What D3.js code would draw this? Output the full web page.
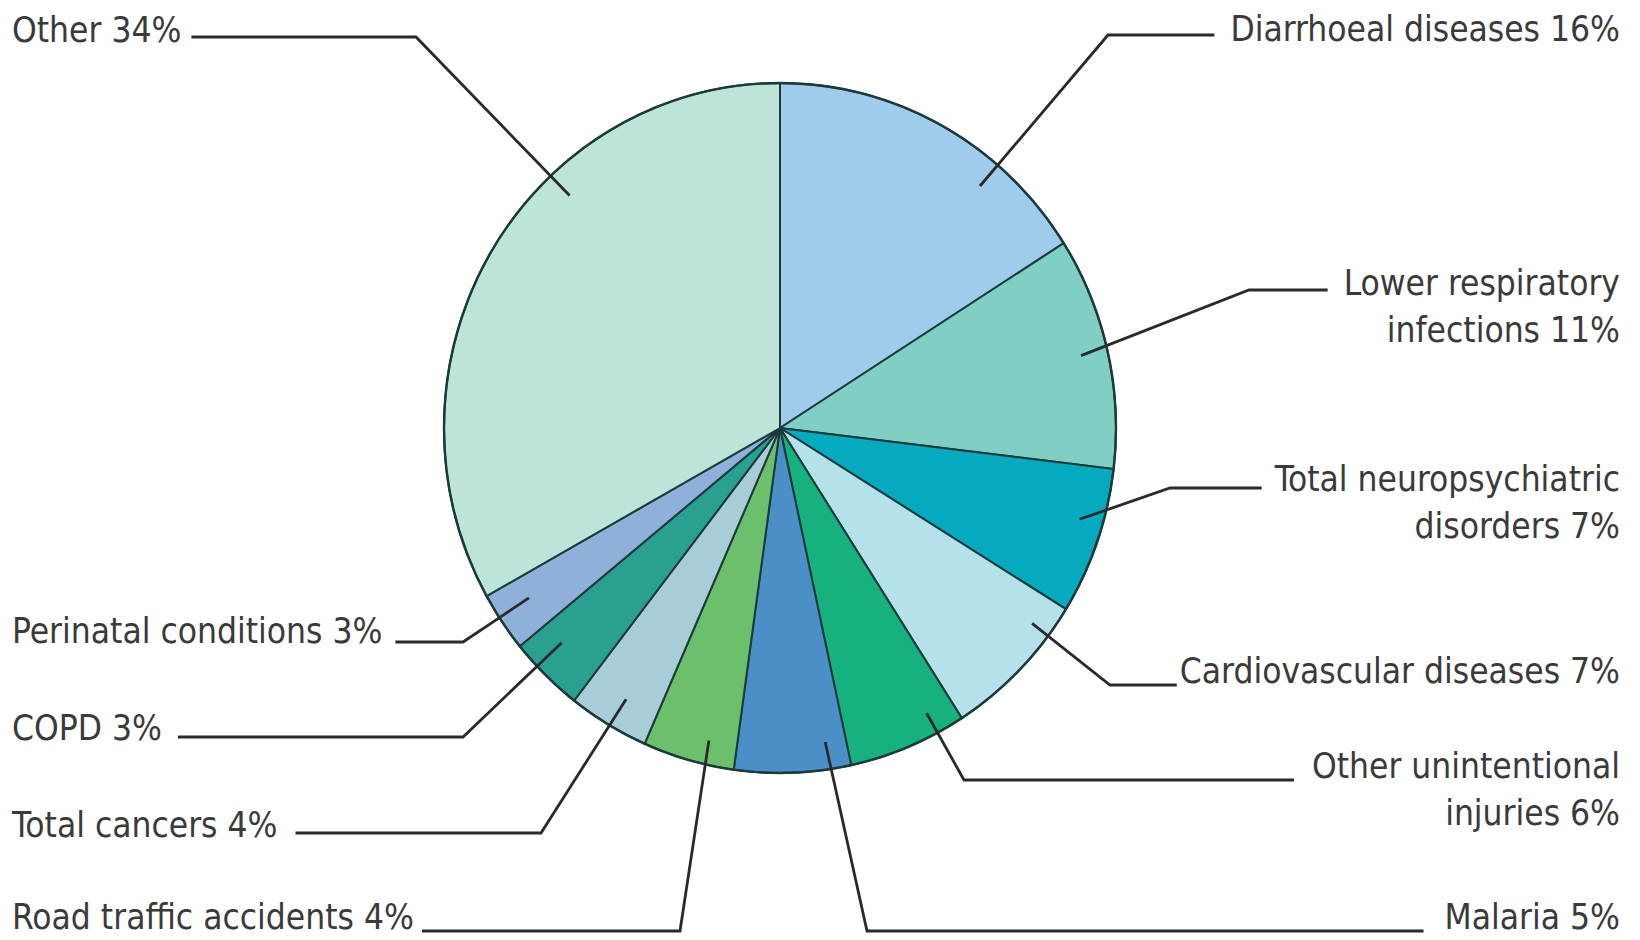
<!DOCTYPE html>
<html>
<head>
<meta charset="utf-8">
<script src="https://cdn.jsdelivr.net/npm/d3@7"></script>
<style>
  html, body { margin: 0; padding: 0; background: #ffffff; }
  svg { display: block; }
  .slice { stroke: #1d3a3a; stroke-width: 2; }
  .rim { fill: none; stroke: #1d3a3a; stroke-width: 2.4; }
  .leader { fill: none; stroke: #2a2a2a; stroke-width: 2.8; }
  .label { font-family: "Liberation Sans Narrow", "DejaVu Sans Condensed", "Noto Sans", sans-serif; font-size: 35px; fill: #3a3a3a; }
</style>
</head>
<body>
<svg id="chart"></svg>
<script>
// slices, clockwise from 12 o'clock
const causes = [
  "Diarrhoeal diseases", "Lower respiratory infections", "Total neuropsychiatric disorders",
  "Cardiovascular diseases", "Other unintentional injuries", "Malaria",
  "Road traffic accidents", "Total cancers", "COPD", "Perinatal conditions", "Other"
];
// share of total
const shares = [16.0, 10.9, 6.9, 7.1, 5.7, 5.6, 4.4, 3.9, 3.6, 2.8, 33.1];
// printed labels (rounded)
const labelLines = [
  ["Diarrhoeal diseases 16%"],
  ["Lower respiratory", "infections 11%"],
  ["Total neuropsychiatric", "disorders 7%"],
  ["Cardiovascular diseases 7%"],
  ["Other unintentional", "injuries 6%"],
  ["Malaria 5%"],
  ["Road traffic accidents 4%"],
  ["Total cancers 4%"],
  ["COPD 3%"],
  ["Perinatal conditions 3%"],
  ["Other 34%"]
];
const colors = [
  "#9fcbec", "#7fcfc4", "#05aabf", "#b4e1ea", "#17b07f", "#4a90c6",
  "#6cc06c", "#a9cdd8", "#2aa092", "#8fb0d8", "#bde4d9"
];

// label layout: side, text x, first baseline, leader y, elbow x, gap to text,
// and where the pointer ends inside its slice (f = fraction of slice angle, k = fraction of radius)
const layout = [
  { side: "right", x: 1620, y: 41,  ly: 35,  ex: 1108, gap: 16, f: 0.70, k: 0.92 },
  { side: "right", x: 1620, y: 295, ly: 290, ex: 1249, gap: 16, f: 0.49, k: 0.92 },
  { side: "right", x: 1620, y: 491, ly: 488, ex: 1170, gap: 13, f: 0.39, k: 0.93 },
  { side: "right", x: 1620, y: 683, ly: 685, ex: 1110, gap: 3,  f: 0.21, k: 0.94 },
  { side: "right", x: 1620, y: 778, ly: 780, ex: 964,  gap: 18, f: 0.24, k: 0.935 },
  { side: "right", x: 1620, y: 929, ly: 931, ex: 867,  gap: 21, f: 0.19, k: 0.92 },
  { side: "left",  x: 12,   y: 929, ly: 931, ex: 680,  gap: 8,  f: 0.33, k: 0.93 },
  { side: "left",  x: 12,   y: 837, ly: 833, ex: 541,  gap: 18, f: 0.46, k: 0.91 },
  { side: "left",  x: 12,   y: 740, ly: 737, ex: 463,  gap: 16, f: 0.65, k: 0.90 },
  { side: "left",  x: 12,   y: 643, ly: 642, ex: 463,  gap: 13, f: 0.58, k: 0.895 },
  { side: "left",  x: 12,   y: 42,  ly: 37,  ex: 416,  gap: 10, f: 0.64, k: 0.92 }
];

const width = 1640;
const height = 940;
const cx = 780;
const cy = 428;
const rx = 336;
const ry = 345;
const sy = ry / rx;
const lineHeight = 47;

const svg = d3.select("#chart").attr("width", width).attr("height", height);

const data = causes.map((name, i) => ({ name, value: shares[i], i }));
const pie = d3.pie().sort(null).value((d) => d.value);
const arcs = pie(data);
const arc = d3.arc().innerRadius(0).outerRadius(rx);

const pieG = svg.append("g").attr("transform", `translate(${cx},${cy}) scale(1,${sy})`);

pieG
  .selectAll("path.slice")
  .data(arcs)
  .join("path")
  .attr("class", "slice")
  .attr("fill", (d) => colors[d.index])
  .attr("d", arc)
  .attr("vector-effect", "non-scaling-stroke");

pieG
  .append("circle")
  .attr("class", "rim")
  .attr("r", rx)
  .attr("vector-effect", "non-scaling-stroke");

const labelG = svg.append("g");

arcs.forEach((a, i) => {
  const l = layout[i];
  const text = labelG
    .append("text")
    .attr("class", "label")
    .attr("text-anchor", l.side === "right" ? "end" : "start");
  labelLines[i].forEach((line, j) => {
    text.append("tspan").attr("x", l.x).attr("y", l.y + j * lineHeight).text(line);
  });

  const firstWidth = text.select("tspan").node().getComputedTextLength();
  const lineEnd = l.side === "right" ? l.x - firstWidth - l.gap : l.x + firstWidth + l.gap;

  const angle = a.startAngle + l.f * (a.endAngle - a.startAngle);
  const p = d3.pointRadial(angle, rx * l.k);
  const tip = [cx + p[0], cy + p[1] * sy];

  labelG
    .append("path")
    .attr("class", "leader")
    .attr("d", d3.line()([[lineEnd, l.ly], [l.ex, l.ly], tip]));
});
</script>
</body>
</html>
